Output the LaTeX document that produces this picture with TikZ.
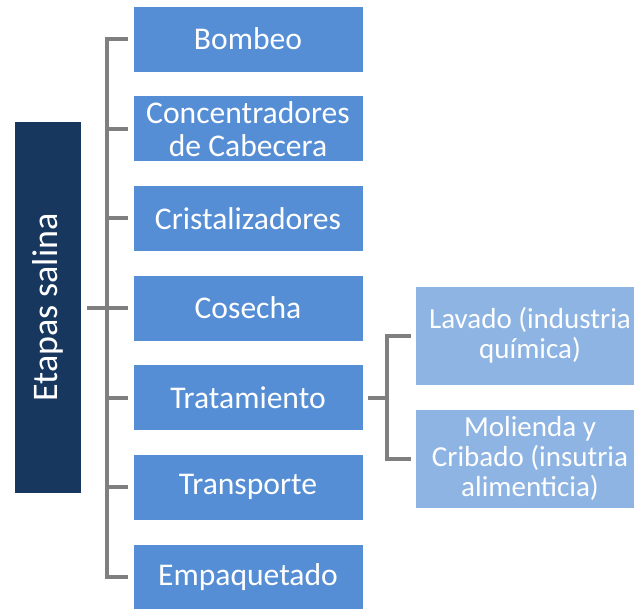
\documentclass[tikz,border=0pt]{standalone}
\usepackage{fontspec}
\setmainfont{Carlito}
\definecolor{mainblue}{RGB}{85,142,213}
\definecolor{subblue}{RGB}{142,180,227}
\definecolor{darknavy}{RGB}{23,55,94}
\definecolor{conngray}{RGB}{127,127,127}
\tikzset{
  stagebox/.style={rectangle, fill=mainblue, draw=white, line width=0.6pt, minimum width=230pt, minimum height=66pt, inner sep=0pt, align=center, text=white, font=\fontsize{31.6}{33}\selectfont},
  subbox/.style={rectangle, fill=subblue, draw=white, line width=0.6pt, minimum width=230pt, minimum height=99pt, inner sep=0pt, align=center, text=white, font=\fontsize{29}{30}\selectfont},
  rootbox/.style={rectangle, fill=darknavy, minimum width=66pt, minimum height=371pt, inner sep=0pt, text=white, font=\fontsize{36}{40}\selectfont},
  conn/.style={draw=conngray, line width=4pt}
}
\begin{document}
\begin{tikzpicture}[x=1pt,y=-1pt]
\useasboundingbox (0,0) rectangle (634,608);
\node[rootbox] (root) at (48,307.5) {\rotatebox{90}{Etapas salina}};
\node[stagebox] (b1) at (248,39) {Bombeo};
\node[stagebox] (b2) at (248,128.7) {Concentradores\\de Cabecera};
\node[stagebox] (b3) at (248,218.3) {Cristalizadores};
\node[stagebox] (b4) at (248,308) {Cosecha};
\node[stagebox] (b5) at (248,397.7) {Tratamiento};
\node[stagebox] (b6) at (248,487.3) {Transporte};
\node[stagebox] (b7) at (248,577) {Empaquetado};
\node[subbox] (s1) at (530,335.5) {Lavado (industria\\química)};
\node[subbox] (s2) at (530,458.5) {Molienda y\\Cribado (insutria\\alimenticia)};
% main bracket
\draw[conn] ([xshift=-5pt]b1.west) -| ([xshift=-26pt]b7.west) -- ([xshift=-5pt]b7.west);
\foreach \i in {2,3,5,6} {\draw[conn] ([xshift=-5pt]b\i.west) -- ([xshift=-26pt]b\i.west);}
\draw[conn] ([xshift=6pt]root.east |- b4.west) -- ([xshift=-5pt]b4.west);
% sub bracket
\draw[conn] ([xshift=-4pt]s1.west) -| ([xshift=-28pt]s2.west) -- ([xshift=-4pt]s2.west);
\coordinate (sbx) at ([xshift=-28pt]s1.west);
\draw[conn] ([xshift=5pt]b5.east) -- (sbx |- b5.east);
\end{tikzpicture}
\end{document}
